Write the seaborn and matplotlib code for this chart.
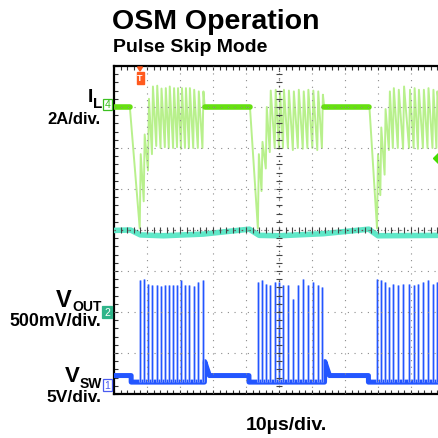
import matplotlib
matplotlib.use("Agg")
import matplotlib.pyplot as plt
from matplotlib.patches import Rectangle, Polygon
from matplotlib.ticker import MultipleLocator
import seaborn as sns
import pandas as pd
import numpy as np

# scope screen: 10 x 8 divisions, 10us/div
burst_on = [0.52, 4.09, 7.71]      # VSW steps down at burst start (div)
il_drop = [0.48, 4.12, 7.74]       # IL leaves its flat level
burst_off = [2.71, 6.35]           # end of burst (last pulse)

# VSW switching pulses (time in div, top in div)
vsw_t1 = [0.79, 0.91, 1.04, 1.16, 1.29, 1.42, 1.55, 1.67, 1.80, 1.92, 2.04, 2.16, 2.28, 2.41, 2.55, 2.69]
vsw_h1 = [2.79, 2.80, 2.69, 2.65, 2.65, 2.63, 2.67, 2.65, 2.65, 2.67, 2.78, 2.65, 2.65, 2.64, 2.72, 2.77]
vsw_t2 = [4.37, 4.48, 4.61, 4.73, 4.88, 5.01, 5.13, 5.28, 5.43, 5.58, 5.73, 5.87, 6.02, 6.17, 6.31]
vsw_h2 = [2.74, 2.77, 2.69, 2.67, 2.72, 2.72, 2.65, 2.65, 2.32, 2.65, 2.81, 2.67, 2.72, 2.65, 2.61]
vsw_t3 = [7.98, 8.08, 8.21, 8.34, 8.46, 8.61, 8.77, 8.95, 9.09, 9.22, 9.37, 9.51, 9.66, 9.78]
vsw_h3 = [2.81, 2.77, 2.72, 2.61, 2.69, 2.65, 2.69, 2.69, 2.67, 2.69, 2.72, 2.77, 2.69, 2.72]
vsw_idle = 0.45
vsw_burst = 0.29
vsw_overshoot = 0.79

# inductor current: flat level, bottom of dip, peaks/valleys per burst (div)
il_flat = 7.0
il_bottom = 4.04
il_peak1 = [5.85, 6.33, 7.20, 7.50, 7.52, 7.45, 7.46, 7.50, 7.46, 7.46, 7.46, 7.46, 7.46, 7.42, 7.38, 7.38]
il_valley1 = [4.70, 5.45, 5.85, 6.05, 6.00, 6.02, 6.00, 6.00, 6.02, 5.98, 6.00, 6.00, 6.00, 6.00, 6.00]
il_peak2 = [5.85, 6.15, 7.00, 7.40, 7.42, 7.38, 7.42, 7.40, 7.38, 7.42, 7.38, 7.42, 7.40, 7.38, 7.30]
il_valley2 = [4.95, 5.50, 5.90, 6.00, 5.98, 6.00, 6.00, 5.95, 6.00, 5.98, 6.00, 6.00, 5.95, 6.00]
il_peak3 = [5.85, 6.50, 6.95, 7.38, 7.46, 7.42, 7.50, 7.42, 7.46, 7.42, 7.42, 7.46, 7.42, 7.38]
il_valley3 = [4.85, 5.35, 5.95, 6.00, 6.00, 5.98, 6.00, 6.00, 5.98, 6.00, 6.00, 6.00, 6.00, 6.00]
il_ref_marker = (9.86, 5.75)

# output voltage ripple (time div, level div)
vout_t = [0.0, 0.50, 0.80, 1.50, 2.70, 4.10, 4.40, 5.00, 6.35, 7.72, 8.00, 10.0]
vout_v = [3.99, 4.00, 3.88, 3.86, 3.90, 4.02, 3.87, 3.86, 3.91, 4.02, 3.86, 3.87]

GREEN = "#66e010"
GREEN_LT = "#b8f08c"
CYAN = "#5fe8c8"
BLUE = "#2356ff"
BLUE_LT = "#9db3ff"

sns.set_theme(style="white")
plt.rcParams["font.family"] = ["Liberation Sans", "DejaVu Sans"]
plt.rcParams["text.color"] = "black"

W, H = 438, 439
fig = plt.figure(figsize=(W / 100, H / 100), dpi=100)
fig.patch.set_facecolor("white")


def fx(x):
    return x / W


def fy(y):
    return 1 - y / H


ax = fig.add_axes([fx(114), fy(395), 330 / W, 328 / H])
ax.set_xlim(0, 10)
ax.set_ylim(0, 8)
ax.set_facecolor("white")

# ---- IL trace ----
def il_burst(tp, peaks, valleys, drop_t, tail):
    xs, ys = [drop_t], [il_flat]
    xs.append(tp[0] - 0.01)
    ys.append(il_bottom)
    for i, t in enumerate(tp):
        xs.append(t + 0.02)
        ys.append(peaks[i])
        if i < len(valleys):
            nxt = tp[i + 1] - 0.01 if i + 1 < len(tp) else 10.0
            xs.append(nxt)
            ys.append(valleys[i])
    if tail:
        xs.append(tp[-1] + 0.06)
        ys.append(il_flat)
    return xs, ys

bursts = [(vsw_t1, il_peak1, il_valley1, True),
          (vsw_t2, il_peak2, il_valley2, True),
          (vsw_t3, il_peak3, il_valley3, False)]
il_x, il_y = [0.0], [il_flat]
flat_segs = [(0.0, il_drop[0])]
for k, (tp, pk, vl, tail) in enumerate(bursts):
    xs, ys = il_burst(tp, pk, vl, il_drop[k], tail)
    il_x += xs
    il_y += ys
    if tail:
        flat_segs.append((xs[-1], il_drop[k + 1]))

df_il = pd.DataFrame({"t": il_x, "v": il_y})
sns.lineplot(data=df_il, x="t", y="v", sort=False, estimator=None,
             color=GREEN_LT, lw=1.4, ax=ax, zorder=3)
for a, b in flat_segs:
    df_f = pd.DataFrame({"t": [a, b], "v": [il_flat, il_flat]})
    sns.lineplot(data=df_f, x="t", y="v", sort=False, estimator=None,
                 color=GREEN, lw=4, ax=ax, zorder=4)
ax.plot(*il_ref_marker, marker="D", ms=6, color="#44dd00", clip_on=True, zorder=4)

# ---- VOUT trace ----
df_vo = pd.DataFrame({"t": vout_t, "v": vout_v})
sns.lineplot(data=df_vo, x="t", y="v", sort=False, estimator=None,
             color=CYAN, lw=4, ax=ax, zorder=3)

# ---- VSW trace ----
sw_x, sw_y = [0.0], [vsw_idle]
for k, on in enumerate(burst_on):
    sw_x += [on, on]
    sw_y += [vsw_idle, vsw_burst]
    if k < len(burst_off):
        off = burst_off[k]
        sw_x += [off + 0.03, off + 0.04, off + 0.18]
        sw_y += [vsw_burst, vsw_overshoot, vsw_idle]
sw_x.append(10.0)
sw_y.append(vsw_burst)
df_sw = pd.DataFrame({"t": sw_x, "v": sw_y})
sns.lineplot(data=df_sw, x="t", y="v", sort=False, estimator=None,
             color=BLUE, lw=3.6, ax=ax, zorder=3)
for tp, hp in [(vsw_t1, vsw_h1), (vsw_t2, vsw_h2), (vsw_t3, vsw_h3)]:
    ax.vlines(tp, vsw_burst, hp, color=BLUE_LT, lw=1.8, zorder=3)
    ax.vlines(tp, vsw_burst, hp, color=BLUE, lw=0.8, zorder=3)

ax.set_xlabel("")
ax.set_ylabel("")
ax.set_xticks([])
ax.set_yticks([])

# ---- graticule ----
for gx in range(1, 10):
    ax.axvline(gx, color="#8c8c8c", lw=0.8, ls=(0, (1, 5)), zorder=5)
for gy in range(1, 8):
    ax.axhline(gy, color="#8c8c8c", lw=0.8, ls=(0, (1, 5)), zorder=5)
ax.axvline(5, color="#555555", lw=0.9, ls=(0, (1, 5)), zorder=5)
ax.axhline(4, color="#555555", lw=0.9, ls=(0, (1, 5)), zorder=5)
mt = np.arange(0.2, 10, 0.2)
ax.plot(mt, np.full_like(mt, 4), ls="none", marker="|", ms=4, mew=0.8, color="#444444", zorder=5)
mv = np.arange(0.2, 8, 0.2)
ax.plot(np.full_like(mv, 5), mv, ls="none", marker="_", ms=4, mew=0.8, color="#444444", zorder=5)

ax.xaxis.set_minor_locator(MultipleLocator(0.2))
ax.yaxis.set_minor_locator(MultipleLocator(0.2))
ax.tick_params(which="minor", direction="in", length=3, width=0.8, color="#333333",
               bottom=True, top=True, left=True, right=False)
for s in ["left", "top", "bottom"]:
    ax.spines[s].set_color("black")
    ax.spines[s].set_linewidth(1.6)
ax.spines["right"].set_visible(False)

# ---- trigger marker ----
ORANGE = "#ff5a1e"
fig.patches.append(Polygon([[fx(137.5), fy(68)], [fx(142.5), fy(68)], [fx(140), fy(72)]],
                           closed=True, transform=fig.transFigure, color=ORANGE))
fig.patches.append(Rectangle((fx(136.5), fy(85)), 7 / W, 12 / H, transform=fig.transFigure,
                             color=ORANGE))
fig.text(fx(140), fy(79), "T", color="white", fontsize=6.5, fontweight="bold",
         ha="center", va="center")

# ---- channel labels ----
def chan_box(x0, y0, w, h, label, edge, fill, tcol):
    fig.patches.append(Rectangle((fx(x0), fy(y0 + h)), w / W, h / H, transform=fig.transFigure,
                                 facecolor=fill, edgecolor=edge, lw=0.9))
    fig.text(fx(x0 + w / 2), fy(y0 + h / 2), label, color=tcol, fontsize=7.5,
             ha="center", va="center")

chan_box(103, 100, 9, 11, "4", "#3cc020", "white", "#3cc020")
chan_box(102, 307, 10, 12, "2", "#2fb58a", "#2fb58a", "white")
chan_box(103, 380, 9, 12, "1", "#4a5cf0", "white", "#4a5cf0")

fig.text(fx(93), fy(102), "I", fontsize=14, fontweight="bold", ha="right", va="baseline")
fig.text(fx(93), fy(108), "L", fontsize=11, fontweight="bold", ha="left", va="baseline")
fig.text(fx(101), fy(124), "2A/div.", fontsize=12, fontweight="bold", ha="right", va="baseline")

fig.text(fx(72), fy(307), "V", fontsize=17, fontweight="bold", ha="right", va="baseline")
fig.text(fx(72), fy(311), "OUT", fontsize=10, fontweight="bold", ha="left", va="baseline")
fig.text(fx(101), fy(326), "500mV/div.", fontsize=12.8, fontweight="bold", ha="right", va="baseline")

fig.text(fx(80), fy(382), "V", fontsize=16, fontweight="bold", ha="right", va="baseline")
fig.text(fx(80), fy(388), "SW", fontsize=10, fontweight="bold", ha="left", va="baseline")
fig.text(fx(101), fy(402), "5V/div.", fontsize=12.5, fontweight="bold", ha="right", va="baseline")

fig.text(fx(286), fy(430), "10µs/div.", fontsize=14, fontweight="bold", ha="center", va="baseline")

fig.text(fx(112), fy(29), "OSM Operation", fontsize=20.5, fontweight="bold", ha="left", va="baseline")
fig.text(fx(113), fy(52), "Pulse Skip Mode", fontsize=14, fontweight="bold", ha="left", va="baseline")

fig.savefig("out.png", dpi=100)
